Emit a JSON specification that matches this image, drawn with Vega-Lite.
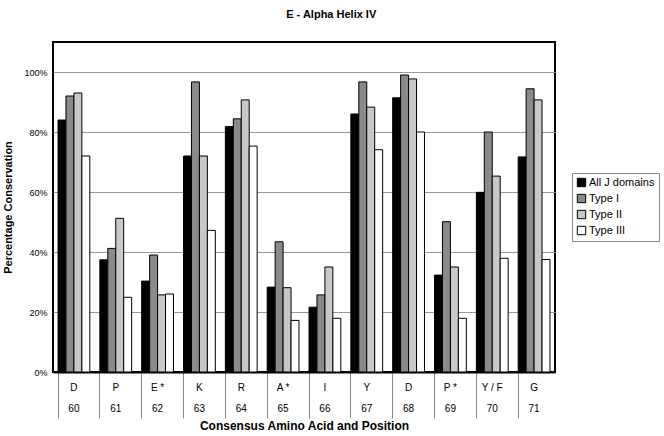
{
  "$schema": "https://vega.github.io/schema/vega-lite/v6.json",
  "autosize": {"type": "none"},
  "width": 502,
  "height": 330,
  "padding": {"left": 53, "top": 42, "right": 109, "bottom": 64},
  "background": "white",
  "title": {
    "text": "E - Alpha Helix IV",
    "font": "Liberation Sans",
    "fontSize": 11,
    "fontWeight": "bold",
    "color": "black",
    "frame": "bounds",
    "anchor": "middle",
    "offset": 22
  },
  "config": {
    "font": "Liberation Sans",
    "view": {"stroke": "black", "strokeWidth": 2},
    "axis": {"labelColor": "black", "titleColor": "black", "labelFont": "Liberation Sans", "titleFont": "Liberation Sans"}
  },
  "data": {
    "values": [
      {"site": "D|60", "series": "All J domains", "value": 0.84},
      {"site": "D|60", "series": "Type I", "value": 0.92},
      {"site": "D|60", "series": "Type II", "value": 0.93},
      {"site": "D|60", "series": "Type III", "value": 0.72},
      {"site": "P|61", "series": "All J domains", "value": 0.374},
      {"site": "P|61", "series": "Type I", "value": 0.412},
      {"site": "P|61", "series": "Type II", "value": 0.512},
      {"site": "P|61", "series": "Type III", "value": 0.249},
      {"site": "E *|62", "series": "All J domains", "value": 0.303},
      {"site": "E *|62", "series": "Type I", "value": 0.39},
      {"site": "E *|62", "series": "Type II", "value": 0.257},
      {"site": "E *|62", "series": "Type III", "value": 0.26},
      {"site": "K|63", "series": "All J domains", "value": 0.72},
      {"site": "K|63", "series": "Type I", "value": 0.967},
      {"site": "K|63", "series": "Type II", "value": 0.72},
      {"site": "K|63", "series": "Type III", "value": 0.472},
      {"site": "R|64", "series": "All J domains", "value": 0.818},
      {"site": "R|64", "series": "Type I", "value": 0.844},
      {"site": "R|64", "series": "Type II", "value": 0.907},
      {"site": "R|64", "series": "Type III", "value": 0.753},
      {"site": "A *|65", "series": "All J domains", "value": 0.283},
      {"site": "A *|65", "series": "Type I", "value": 0.434},
      {"site": "A *|65", "series": "Type II", "value": 0.281},
      {"site": "A *|65", "series": "Type III", "value": 0.172},
      {"site": "I|66", "series": "All J domains", "value": 0.216},
      {"site": "I|66", "series": "Type I", "value": 0.257},
      {"site": "I|66", "series": "Type II", "value": 0.35},
      {"site": "I|66", "series": "Type III", "value": 0.179},
      {"site": "Y|67", "series": "All J domains", "value": 0.86},
      {"site": "Y|67", "series": "Type I", "value": 0.967},
      {"site": "Y|67", "series": "Type II", "value": 0.883},
      {"site": "Y|67", "series": "Type III", "value": 0.741},
      {"site": "D|68", "series": "All J domains", "value": 0.914},
      {"site": "D|68", "series": "Type I", "value": 0.99},
      {"site": "D|68", "series": "Type II", "value": 0.977},
      {"site": "D|68", "series": "Type III", "value": 0.80},
      {"site": "P *|69", "series": "All J domains", "value": 0.323},
      {"site": "P *|69", "series": "Type I", "value": 0.501},
      {"site": "P *|69", "series": "Type II", "value": 0.35},
      {"site": "P *|69", "series": "Type III", "value": 0.179},
      {"site": "Y / F|70", "series": "All J domains", "value": 0.599},
      {"site": "Y / F|70", "series": "Type I", "value": 0.80},
      {"site": "Y / F|70", "series": "Type II", "value": 0.653},
      {"site": "Y / F|70", "series": "Type III", "value": 0.379},
      {"site": "G|71", "series": "All J domains", "value": 0.717},
      {"site": "G|71", "series": "Type I", "value": 0.944},
      {"site": "G|71", "series": "Type II", "value": 0.907},
      {"site": "G|71", "series": "Type III", "value": 0.375}
    ]
  },
  "mark": {"type": "bar", "stroke": "black", "strokeWidth": 1},
  "encoding": {
    "x": {
      "field": "site",
      "type": "nominal",
      "sort": null,
      "scale": {"paddingInner": 0.24, "paddingOuter": 0.12},
      "axis": {
        "title": "Consensus Amino Acid and Position",
        "titleFontSize": 12,
        "titleFontWeight": "bold",
        "titlePadding": 2,
        "labelExpr": "split(datum.value, '|')",
        "labelAngle": 0,
        "labelFontSize": 10,
        "labelLineHeight": 21,
        "labelPadding": -36,
        "labelBaseline": "top",
        "bandPosition": 0,
        "tickSize": 46,
        "tickColor": "#888",
        "tickWidth": 1,
        "domainColor": "black",
        "domainWidth": 2,
        "grid": false
      }
    },
    "xOffset": {
      "field": "series",
      "type": "nominal",
      "sort": ["All J domains", "Type I", "Type II", "Type III"],
      "scale": {"paddingInner": 0, "paddingOuter": 0}
    },
    "y": {
      "field": "value",
      "type": "quantitative",
      "scale": {"domain": [0, 1.1], "nice": false},
      "axis": {
        "title": "Percentage Conservation",
        "titleFontSize": 11,
        "titleFontWeight": "bold",
        "titlePadding": 10,
        "values": [0, 0.2, 0.4, 0.6, 0.8, 1.0],
        "format": ".0%",
        "labelFontSize": 9,
        "labelPadding": 6,
        "ticks": false,
        "domain": false,
        "grid": true,
        "gridColor": "#999",
        "gridWidth": 1
      }
    },
    "fill": {
      "field": "series",
      "type": "nominal",
      "sort": ["All J domains", "Type I", "Type II", "Type III"],
      "scale": {"range": ["black", "#8a8a8a", "#c8c8c8", "white"]},
      "legend": {
        "title": null,
        "orient": "none",
        "legendX": 519,
        "legendY": 131,
        "padding": 4,
        "strokeColor": "#888",
        "symbolType": "square",
        "symbolSize": 70,
        "symbolStrokeColor": "black",
        "symbolStrokeWidth": 1,
        "labelFontSize": 11,
        "labelColor": "black",
        "labelOffset": 2,
        "rowPadding": 3
      }
    }
  }
}
